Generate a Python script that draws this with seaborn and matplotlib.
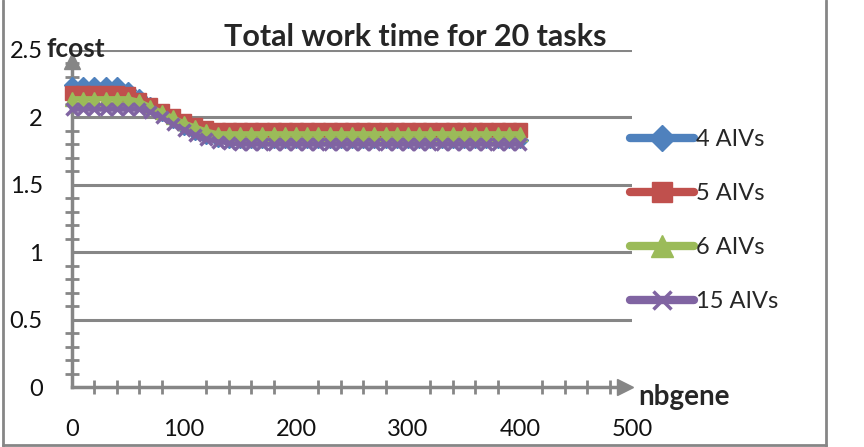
import matplotlib
matplotlib.use("Agg")
import matplotlib.pyplot as plt
import seaborn as sns
import numpy as np
import pandas as pd
from matplotlib.lines import Line2D
from matplotlib.ticker import MultipleLocator

# ---- data ----
nbgene = list(range(0, 410, 10))  # 0..400
aiv4 = [2.24, 2.24, 2.24, 2.24, 2.24, 2.20, 2.15, 2.09, 2.03, 1.98, 1.93, 1.89,
        1.86, 1.84] + [1.83] * 27
aiv5 = [2.18, 2.18, 2.18, 2.18, 2.18, 2.17, 2.13, 2.09, 2.05, 2.01, 1.97, 1.94,
        1.92] + [1.91] * 28
aiv6 = [2.14, 2.14, 2.14, 2.14, 2.14, 2.14, 2.12, 2.08, 2.04, 2.00, 1.96, 1.93,
        1.90] + [1.88] * 28
aiv15 = [2.06, 2.06, 2.06, 2.06, 2.06, 2.06, 2.06, 2.04, 2.00, 1.95, 1.91, 1.87,
         1.84, 1.82, 1.81] + [1.80] * 26
series_names = ["4 AIVs", "5 AIVs", "6 AIVs", "15 AIVs"]
series_vals = [aiv4, aiv5, aiv6, aiv15]
colors = ["#4F81BD", "#C0504D", "#9BBB59", "#8064A2"]
markers = ["D", "s", "^", "x"]
msizes = [8.5, 10, 10.5, 9]
yticks = [0, 0.5, 1, 1.5, 2, 2.5]
yticklabels = ["0", "0.5", "1", "1.5", "2", "2.5"]
xticks = [0, 100, 200, 300, 400, 500]
xticklabels = ["0", "100", "200", "300", "400", "500"]

df = pd.DataFrame({
    "nbgene": nbgene * 4,
    "fcost": sum(series_vals, []),
    "series": sum([[n] * len(nbgene) for n in series_names], []),
})

sns.set_style("white")
plt.rcParams["font.family"] = ["Lato", "DejaVu Sans"]

W, H = 864, 447
fig = plt.figure(figsize=(W / 100, H / 100), dpi=100)
ax_left, ax_right, ax_top, ax_bottom = 72, 632, 50, 387
ax = fig.add_axes([ax_left / W, 1 - ax_bottom / H, (ax_right - ax_left) / W,
                   (ax_bottom - ax_top) / H])

grid_c = "#868686"
for name, c, m, ms in zip(series_names, colors, markers, msizes):
    sub = df[df["series"] == name]
    kw = dict(markeredgecolor=c, markeredgewidth=1 if m != "x" else 2.5)
    sns.lineplot(data=sub, x="nbgene", y="fcost", ax=ax, color=c, marker=m,
                 markersize=ms, linewidth=3.5, label=name, legend=False,
                 clip_on=False, zorder=3, **kw)

ax.set_xlim(0, 500)
ax.set_ylim(0, 2.5)
ax.set_xlabel("")
ax.set_ylabel("")

# gridlines
for yv in yticks[1:]:
    ax.axhline(yv, color=grid_c, lw=2.2, zorder=1)

for s in ["top", "right"]:
    ax.spines[s].set_visible(False)
for s in ["left", "bottom"]:
    ax.spines[s].set_color(grid_c)
    ax.spines[s].set_linewidth(2.5)
    ax.spines[s].set_zorder(2)
ax.spines["left"].set_bounds(0, 2.4)
ax.spines["bottom"].set_bounds(0, 495)

ax.set_yticks(yticks)
ax.set_yticklabels(yticklabels)
ax.set_xticks(xticks)
ax.set_xticklabels(xticklabels)
ax.tick_params(axis="both", which="both", bottom=True, left=True)
ax.tick_params(axis="both", which="major", length=0, labelsize=17,
               labelcolor="#111111")
ax.tick_params(axis="y", which="major", pad=21)
ax.tick_params(axis="x", which="major", pad=23)
ax.xaxis.set_minor_locator(MultipleLocator(20))
ax.yaxis.set_minor_locator(MultipleLocator(0.1))
ax.tick_params(axis="both", which="minor", direction="inout", length=10,
               width=2, color=grid_c)

# axis arrows
ax.plot([494], [0], marker=">", color=grid_c, markersize=12, clip_on=False,
        zorder=2)
ax.plot([0], [2.42], marker="^", color=grid_c, markersize=12, clip_on=False,
        zorder=2)

# labels
fig.text(415 / W, 1 - 37 / H, "Total work time for 20 tasks",
         fontsize=22, fontweight="bold", ha="center", va="center")
fig.text(76 / W, 1 - 49 / H, "fcost", fontsize=19, fontweight="bold",
         ha="center", va="center")
fig.text(638 / W, 1 - 397 / H, "nbgene", fontsize=20, fontweight="bold",
         ha="left", va="center")

leg = ax.legend(loc="upper left", bbox_to_anchor=(630 / W, 1 - 129 / H),
                bbox_transform=fig.transFigure, frameon=False, fontsize=17,
                handlelength=2.7, handletextpad=0.1, labelspacing=1.4,
                borderpad=0, borderaxespad=0, numpoints=1, markerscale=1.5)
for ln in leg.get_lines():
    ln.set_linewidth(6)

# outer frame
fig.add_artist(Line2D([3 / W, 3 / W], [0, 1], color=grid_c, lw=2))
fig.add_artist(Line2D([826 / W, 826 / W], [0, 1], color=grid_c, lw=2))
fig.add_artist(Line2D([3 / W, 826 / W], [1 - 445 / H, 1 - 445 / H],
                      color=grid_c, lw=2))

fig.savefig("out.png", dpi=100)
